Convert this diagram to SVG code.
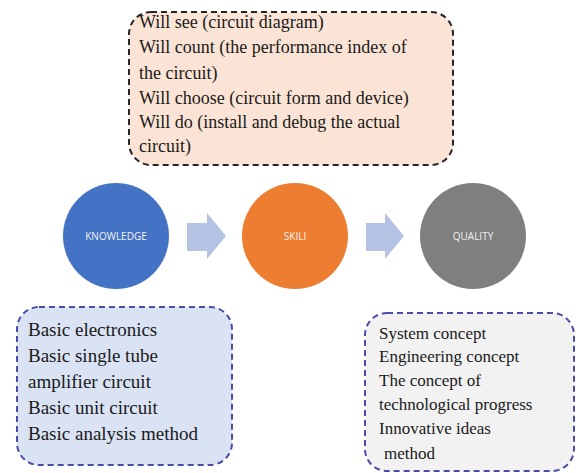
<svg xmlns="http://www.w3.org/2000/svg" width="576" height="473" viewBox="0 0 576 473">
  <rect width="576" height="473" fill="#ffffff"/>

  <g id="skill-box">
    <rect x="129" y="12" width="324" height="153" rx="22" fill="#fbe4d6" stroke="#262626" stroke-width="2" stroke-dasharray="6 4"/>
    <text x="139" y="28" style="font-family:'Times New Roman','Liberation Serif',serif;font-size:18px" fill="#1a1a1a">Will see (circuit diagram)</text>
    <text x="139" y="53" style="font-family:'Times New Roman','Liberation Serif',serif;font-size:18px" fill="#1a1a1a">Will count (the performance index of</text>
    <text x="139" y="79" style="font-family:'Times New Roman','Liberation Serif',serif;font-size:18px" fill="#1a1a1a">the circuit)</text>
    <text x="139" y="104" style="font-family:'Times New Roman','Liberation Serif',serif;font-size:18px" fill="#1a1a1a">Will choose (circuit form and device)</text>
    <text x="139" y="128" style="font-family:'Times New Roman','Liberation Serif',serif;font-size:18px" fill="#1a1a1a">Will do (install and debug the actual</text>
    <text x="139" y="152" style="font-family:'Times New Roman','Liberation Serif',serif;font-size:18px" fill="#1a1a1a">circuit)</text>
  </g>

  <g id="knowledge">
    <circle cx="116" cy="236" r="53" fill="#4472c4"/>
    <text x="116" y="240" font-family="Open Sans" font-size="10" fill="#f2f2f2" text-anchor="middle">KNOWLEDGE</text>
  </g>
  <g id="skill">
    <circle cx="295" cy="236" r="53" fill="#ed7d31"/>
    <text x="295" y="240" font-family="Open Sans" font-size="10" fill="#f2f2f2" text-anchor="middle">SKILI</text>
  </g>
  <g id="quality">
    <circle cx="473" cy="236" r="53" fill="#7f7f7f"/>
    <text x="473" y="240" font-family="Open Sans" font-size="10" fill="#f2f2f2" text-anchor="middle">QUALITY</text>
  </g>

  <g id="connectors" fill="#b4c3e3">
    <polygon points="187,223 207,223 207,213 226,236 207,259 207,251 187,251"/>
    <polygon points="366,223 385,223 385,213 404,236 385,259 385,251 366,251"/>
  </g>

  <g id="knowledge-box">
    <rect x="17" y="307" width="215" height="158" rx="22" fill="#dae3f3" stroke="#4b4ba8" stroke-width="2" stroke-dasharray="6 4"/>
    <text x="28" y="336" style="font-family:'Times New Roman','Liberation Serif',serif;font-size:19px" fill="#1a1a1a">Basic electronics</text>
    <text x="28" y="362" style="font-family:'Times New Roman','Liberation Serif',serif;font-size:19px" fill="#1a1a1a">Basic single tube</text>
    <text x="28" y="388" style="font-family:'Times New Roman','Liberation Serif',serif;font-size:19px" fill="#1a1a1a">amplifier circuit</text>
    <text x="28" y="414" style="font-family:'Times New Roman','Liberation Serif',serif;font-size:19px" fill="#1a1a1a">Basic unit circuit</text>
    <text x="28" y="440" style="font-family:'Times New Roman','Liberation Serif',serif;font-size:19px" fill="#1a1a1a">Basic analysis method</text>
  </g>

  <g id="quality-box">
    <rect x="365" y="313" width="209" height="158" rx="22" fill="#f2f2f2" stroke="#4b4ba8" stroke-width="2" stroke-dasharray="6 4"/>
    <text x="379" y="339" style="font-family:'Times New Roman','Liberation Serif',serif;font-size:17px" fill="#1a1a1a">System concept</text>
    <text x="379" y="362" style="font-family:'Times New Roman','Liberation Serif',serif;font-size:17px" fill="#1a1a1a">Engineering concept</text>
    <text x="379" y="386" style="font-family:'Times New Roman','Liberation Serif',serif;font-size:17px" fill="#1a1a1a">The concept of</text>
    <text x="379" y="410" style="font-family:'Times New Roman','Liberation Serif',serif;font-size:17px" fill="#1a1a1a">technological progress</text>
    <text x="379" y="434" style="font-family:'Times New Roman','Liberation Serif',serif;font-size:17px" fill="#1a1a1a">Innovative ideas</text>
    <text x="384" y="459" style="font-family:'Times New Roman','Liberation Serif',serif;font-size:17px" fill="#1a1a1a">method</text>
  </g>
</svg>
